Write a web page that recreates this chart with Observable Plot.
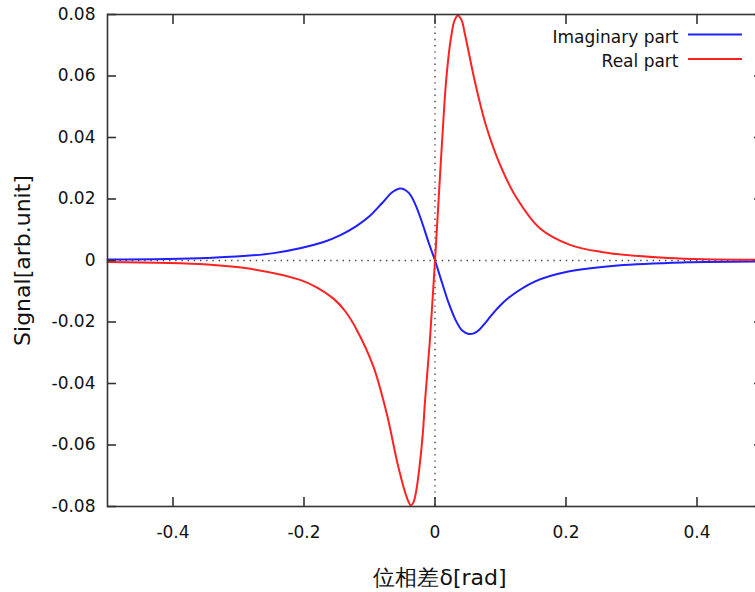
<!DOCTYPE html>
<html>
<head>
<meta charset="utf-8">
<script src="https://cdn.jsdelivr.net/npm/d3@7"></script>
<script src="https://cdn.jsdelivr.net/npm/@observablehq/plot@0.6"></script>
<style>
  html, body { margin: 0; padding: 0; background: #fff; overflow: hidden; }
  #wrap { width: 755px; height: 592px; overflow: hidden; }
  #wrap svg { max-width: none !important; width: 763px !important; height: 592px !important; }
</style>
</head>
<body>
<div id="wrap"></div>
<script>
// ---- data ----
const seriesNames = ["Imaginary part", "Real part"];
const seriesColors = ["#1f1fff", "#ff2222"];

const realX = [-0.5, -0.348, -0.282, -0.206, -0.18, -0.155, -0.137, -0.1196, -0.094, -0.0738, -0.056, -0.0433, -0.0369, -0.033, -0.029, -0.024, -0.0188, -0.0153, -0.008, 0,
               0.0073, 0.0142, 0.0185, 0.0248, 0.0300, 0.0350, 0.0405, 0.0458, 0.0585, 0.068, 0.079, 0.0992, 0.1247, 0.160, 0.206, 0.254, 0.356, 0.5];
const realY = [-0.0005, -0.0013, -0.0027, -0.0063, -0.0088, -0.0124, -0.0165, -0.0225, -0.0345, -0.0497, -0.0671, -0.0769, -0.0796, -0.0787, -0.0753, -0.0677, -0.0568, -0.0459, -0.0265, 0,
               0.0263, 0.0505, 0.0620, 0.0730, 0.0782, 0.0797, 0.0782, 0.0735, 0.0605, 0.0518, 0.0431, 0.0312, 0.0203, 0.0105, 0.0051, 0.0028, 0.0008, 0.0002];

const imagX = [-0.5, -0.348, -0.246, -0.17, -0.145, -0.12, -0.101, -0.0806, -0.0653, -0.0527, -0.040, -0.0298, -0.0195, -0.0095, 0,
               0.011, 0.021, 0.0313, 0.0415, 0.0517, 0.060, 0.068, 0.076, 0.0847, 0.097, 0.112, 0.153, 0.2035, 0.279, 0.382, 0.5];
const imagY = [0.0003, 0.0008, 0.0024, 0.0060, 0.0082, 0.0112, 0.0142, 0.0187, 0.0222, 0.0234, 0.0220, 0.0181, 0.0122, 0.0057, 0,
               -0.0074, -0.0139, -0.0193, -0.0228, -0.0239, -0.0236, -0.0224, -0.0205, -0.0182, -0.0152, -0.0122, -0.0068, -0.0036, -0.0016, -0.0006, -0.0003];

const xTicks = [-0.4, -0.2, 0, 0.2, 0.4];
const xTickLabels = ["-0.4", "-0.2", "0", "0.2", "0.4"];
const yTicks = [-0.08, -0.06, -0.04, -0.02, 0, 0.02, 0.04, 0.06, 0.08];
const yTickLabels = ["-0.08", "-0.06", "-0.04", "-0.02", "0", "0.02", "0.04", "0.06", "0.08"];
const xDomain = [-0.5, 0.5];
const yDomain = [-0.08, 0.08];
const xLabel = "位相差δ[rad]";
const yLabel = "Signal[arb.unit]";
const zeroLine = [0];

// build tables
const imagData = imagX.map((x, i) => ({x, y: imagY[i]}));
const realData = realX.map((x, i) => ({x, y: realY[i]}));

const font = "'DejaVu Sans', sans-serif";
const frameColor = "#333";
const xFmt = d => xTickLabels[xTicks.indexOf(d)] ?? String(d);
const yFmt = d => yTickLabels[yTicks.indexOf(d)] ?? String(d);

const W = 763, H = 592, mL = 107, mR = 1, mT = 14, mB = 86;

const plot = Plot.plot({
  width: W,
  height: H,
  marginTop: mT,
  marginBottom: mB,
  marginLeft: mL,
  marginRight: mR,
  style: {fontFamily: font, fontSize: "17px", color: "#111", background: "#fff", maxWidth: "none"},
  x: {domain: xDomain},
  y: {domain: yDomain},
  marks: [
    Plot.ruleX(zeroLine, {stroke: "#444", strokeWidth: 1.4, strokeDasharray: "1.4,4.8"}),
    Plot.ruleY(zeroLine, {stroke: "#444", strokeWidth: 1.4, strokeDasharray: "1.4,4.8"}),
    Plot.line(imagData, {x: "x", y: "y", stroke: seriesColors[0], strokeWidth: 2, curve: "catmull-rom"}),
    Plot.line(realData, {x: "x", y: "y", stroke: seriesColors[1], strokeWidth: 2, curve: "catmull-rom"}),
    Plot.frame({stroke: frameColor, strokeWidth: 1.6}),
    Plot.axisX(xTicks, {anchor: "bottom", tickSize: -9, tickPadding: 28, tickFormat: xFmt, stroke: frameColor, strokeWidth: 1.6, label: null, fill: "#111"}),
    Plot.axisX(xTicks, {anchor: "top", tickSize: -9, tickFormat: () => "", stroke: frameColor, strokeWidth: 1.6, label: null}),
    Plot.axisY(yTicks, {anchor: "left", tickSize: -9, tickPadding: 21, tickFormat: yFmt, stroke: frameColor, strokeWidth: 1.6, label: null, fill: "#111"}),
    Plot.axisY(yTicks, {anchor: "right", tickSize: -9, tickFormat: () => "", stroke: frameColor, strokeWidth: 1.6, label: null}),
    Plot.text([yLabel], {text: d => d, frameAnchor: "left", textAnchor: "middle", lineAnchor: "middle", rotate: -90, dx: -85, fontSize: 22, fill: "#111"}),
    Plot.text([xLabel], {text: d => d, frameAnchor: "bottom", textAnchor: "middle", lineAnchor: "middle", dx: 5, dy: 71, fontSize: 22, fill: "#111"}),
    Plot.text([seriesNames[0]], {text: d => d, frameAnchor: "top-right", textAnchor: "end", lineAnchor: "middle", dx: -84, dy: 23, fontSize: 17, fill: "#111"}),
    Plot.text([seriesNames[1]], {text: d => d, frameAnchor: "top-right", textAnchor: "end", lineAnchor: "middle", dx: -84, dy: 47, fontSize: 17, fill: "#111"})
  ]
});

// legend sample lines
const svg = d3.select(plot);
const legendRows = [20.5, 45];
seriesColors.forEach((c, i) => {
  svg.append("line")
    .attr("x1", W - mR - 74).attr("x2", W - mR - 20)
    .attr("y1", mT + legendRows[i]).attr("y2", mT + legendRows[i])
    .attr("stroke", c).attr("stroke-width", 2);
});

document.getElementById("wrap").appendChild(plot);
</script>
</body>
</html>
